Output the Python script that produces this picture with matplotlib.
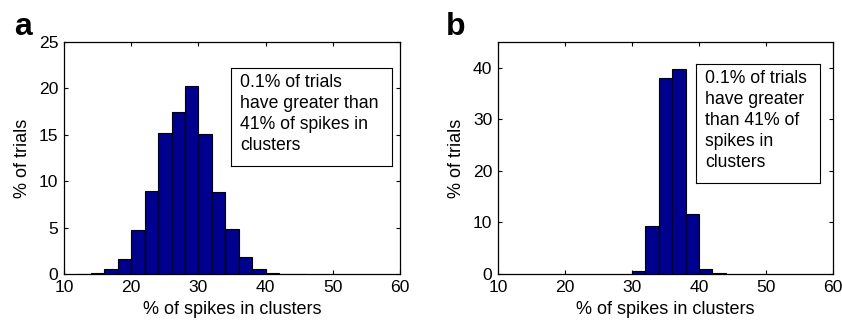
import matplotlib
matplotlib.use("Agg")
import matplotlib.pyplot as plt
import numpy as np

plt.rcParams['font.family'] = ['Liberation Sans', 'DejaVu Sans']

bin_edges = [12, 14, 16, 18, 20, 22, 24, 26, 28, 30, 32, 34, 36, 38, 40, 42, 44, 46]
pct_a = [0.05, 0.12, 0.5, 1.6, 4.7, 8.9, 15.2, 17.5, 20.3, 15.1, 8.85, 4.8, 1.85, 0.57, 0.15, 0.05, 0.02]
bin_edges_b = [30, 32, 34, 36, 38, 40, 42, 44]
pct_b = [0.6, 9.3, 38.1, 39.7, 11.65, 0.95, 0.1]

xticks = [10, 20, 30, 40, 50, 60]
yticks_a = [0, 5, 10, 15, 20, 25]
yticks_b = [0, 10, 20, 30, 40]
xlabel = "% of spikes in clusters"
ylabel = "% of trials"
note_a = "0.1% of trials\nhave greater than\n41% of spikes in\nclusters"
note_b = "0.1% of trials\nhave greater\nthan 41% of\nspikes in\nclusters"

W, H = 842, 322
fig = plt.figure(figsize=(W / 100, H / 100), dpi=100)

def px(x0, y0, x1, y1):
    return [x0 / W, 1 - y1 / H, (x1 - x0) / W, (y1 - y0) / H]

bar_color = '#00008F'
FS = 12.6

def panel(rect, edges, vals, ylim, yticks, note, box_rect, letter, letter_pos):
    ax = fig.add_axes(px(*rect))
    edges = np.array(edges, dtype=float)
    ax.bar(edges[:-1], vals, width=np.diff(edges), align='edge',
           color=bar_color, edgecolor='black', linewidth=0.8)
    ax.set_xlim(10, 60)
    ax.set_ylim(*ylim)
    ax.set_xticks(xticks)
    ax.set_yticks(yticks)
    ax.tick_params(direction='in', top=True, right=True, labelsize=FS, length=3, width=0.8)
    ax.tick_params(axis='x', pad=4.5)
    ax.tick_params(axis='y', pad=4)
    for s in ax.spines.values():
        s.set_linewidth(0.9)
    ax.set_xlabel(xlabel, fontsize=FS + 0.4, labelpad=4)
    ax.set_ylabel(ylabel, fontsize=FS + 0.4, labelpad=6)
    # annotation box
    bx0, by0, bx1, by1 = box_rect
    bax = fig.add_axes(px(bx0, by0, bx1, by1))
    bax.set_xticks([]); bax.set_yticks([])
    for s in bax.spines.values():
        s.set_linewidth(0.8)
    bax.text(9 / (bx1 - bx0), 1 - 6 / (by1 - by0), note, transform=bax.transAxes,
             fontsize=12.7, va='top', ha='left', linespacing=1.3)
    fig.text(letter_pos[0] / W, 1 - letter_pos[1] / H, letter, fontsize=23,
             fontweight='bold', ha='left', va='baseline')
    return ax

panel((64, 42, 400, 274), bin_edges, pct_a, (0, 25), yticks_a, note_a,
      (231, 68, 392, 166), 'a', (14, 35))
panel((498, 42, 833, 274), bin_edges_b, pct_b, (0, 45), yticks_b, note_b,
      (696, 64, 820, 183), 'b', (446, 35))

fig.savefig('out.png', dpi=100)
